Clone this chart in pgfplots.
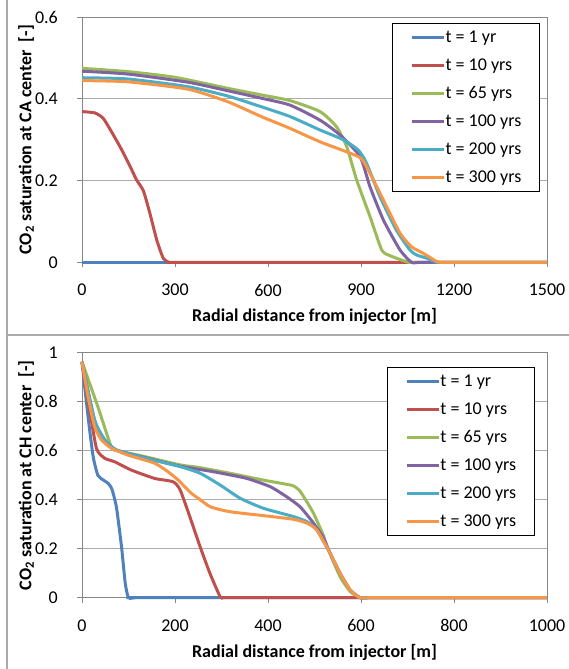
\documentclass[border=0pt]{standalone}
\usepackage{fontspec}
\setmainfont{Carlito}
\usepackage{pgfplots}
\pgfplotsset{compat=1.18}

\definecolor{sA}{HTML}{4F81BD}
\definecolor{sB}{HTML}{C0504D}
\definecolor{sC}{HTML}{9BBB59}
\definecolor{sD}{HTML}{8064A2}
\definecolor{sE}{HTML}{4BACC6}
\definecolor{sF}{HTML}{F79646}
\definecolor{axisgray}{RGB}{134,134,134}
\definecolor{gridgray}{RGB}{172,172,172}
\definecolor{framegray}{RGB}{170,170,170}

\pgfplotsset{
  excel/.style={
    scale only axis, width=465pt, height=245pt,
    anchor=south west, xmin=0, ymin=0,
    axis line style={draw=axisgray, line width=1pt},
    ymajorgrids, grid style={draw=gridgray, line width=1pt},
    tick align=outside, xtick pos=bottom, ytick pos=left,
    major tick length=5pt, tick style={draw=axisgray, line width=1pt},
    tick label style={font=\fontsize{18}{21}\selectfont},
    /pgf/number format/assume math mode=true,
    /pgf/number format/1000 sep={},
    scaled ticks=false,
    xticklabel style={anchor=north, inner sep=0pt, yshift=-16.5pt},
    yticklabel style={anchor=east, inner sep=0pt, xshift=-19pt},
    label style={font=\bfseries\fontsize{18}{21}\selectfont},
    xlabel style={at={(axis description cs:0.5,-0.222)}, anchor=center},
    ylabel style={at={(axis description cs:-0.1202,0.5)}, anchor=center},
    clip=false,
    every axis plot/.append style={line width=3pt, smooth, tension=0.35},
    legend image code/.code={\draw[#1] (0pt,0pt) -- (32pt,0pt);},
    legend cell align=left,
    legend style={anchor=north west, draw=black, line width=0.8pt, fill=white,
      inner xsep=18.5pt, inner ysep=6pt, row sep=12pt,
      font=\fontsize{18}{21}\selectfont,
      nodes={inner sep=0pt, text height=13pt, text depth=3pt},
      /tikz/every even column/.append style={column sep=1pt}},
  }
}

\begin{document}
\begin{tikzpicture}
\path[use as bounding box] (0pt,0pt) rectangle (569pt,669pt);
\draw[framegray, line width=1.5pt] (7pt,0pt) -- (7pt,669pt);
\draw[framegray, line width=1.5pt] (7pt,334pt) -- (569pt,334pt);

% top: CA center
\begin{axis}[excel, at={(82pt,406.7pt)},
  xmax=1500, ymax=0.6,
  xtick={0,300,600,900,1200,1500}, ytick={0,0.2,0.4,0.6},
  xlabel={Radial distance from injector [m]},
  ylabel={CO\textsubscript{2} saturation at CA center\ \ [-]},
  legend style={at={(0.666,0.978)}}]
\addplot[sA] coordinates {(0,0) (750,0) (1500,0)};
\addplot[sB] coordinates {(0,0.369) (41,0.366) (68,0.353) (95,0.32) (127,0.277)
  (155,0.235) (176,0.202) (198,0.175) (219,0.12) (241,0.055) (262,0.01) (280,0)
  (300,0) (340,0) (1500,0)};
\addplot[sC] coordinates {(0,0.475) (148,0.467) (300,0.453) (471,0.426) (578,0.41)
  (671,0.396) (768,0.369) (821,0.332) (854,0.283) (886,0.2016) (929,0.112)
  (967,0.03) (994,0.016) (1053,0) (1080,0) (1120,0) (1500,0)};
\addplot[sD] coordinates {(0,0.468) (148,0.461) (342,0.441) (471,0.42) (578,0.402)
  (671,0.385) (768,0.348) (832,0.312) (897,0.259) (929,0.185) (972,0.104)
  (1026,0.03) (1063,0) (1090,0) (1130,0) (1500,0)};
\addplot[sE] coordinates {(0,0.452) (148,0.449) (342,0.43) (471,0.407) (578,0.381)
  (671,0.357) (768,0.324) (843,0.30) (891,0.275) (918,0.2425) (961,0.161)
  (1014,0.079) (1058,0.03) (1079,0.018) (1112,0.01) (1144,0) (1170,0) (1210,0)
  (1500,0)};
\addplot[sF] coordinates {(0,0.445) (148,0.442) (342,0.424) (471,0.393) (578,0.357)
  (671,0.328) (768,0.295) (891,0.259) (918,0.234) (972,0.1526) (1026,0.071)
  (1063,0.038) (1101,0.022) (1144,0.002) (1155,0) (1180,0) (1220,0) (1500,0)};
\legend{t = 1 yr, t = 10 yrs, t = 65 yrs, t = 100 yrs, t = 200 yrs, t = 300 yrs}
\end{axis}

% bottom: CH center
\begin{axis}[excel, at={(82pt,71.3pt)},
  xmax=1000, ymax=1,
  xtick={0,200,400,600,800,1000}, ytick={0,0.2,0.4,0.6,0.8,1},
  xlabel={Radial distance from injector [m]},
  ylabel={CO\textsubscript{2} saturation at CH center\ \ [-]},
  legend style={at={(0.655,0.94)}}]
\addplot[sA] coordinates {(0,0.963) (13,0.739) (24,0.576) (34,0.50) (46,0.48)
  (56,0.467) (64,0.445) (74,0.37) (85,0.208) (93,0.059) (100,0) (115,0) (140,0)
  (1000,0)};
\addplot[sB] coordinates {(0,0.963) (13,0.807) (31,0.61) (49,0.569) (70,0.555)
  (106,0.521) (156,0.487) (196,0.473) (211,0.44) (232,0.33)
  (254,0.208) (275,0.1) (297,0.004) (304,0) (320,0) (350,0) (1000,0)};
\addplot[sC] coordinates {(0,0.963) (34,0.78) (63,0.616) (77,0.6) (135,0.576)
  (211,0.542) (250,0.532) (318,0.508) (390,0.48) (448,0.46) (458,0.453)
  (469,0.435) (484,0.39) (498,0.344) (519,0.255) (527,0.208) (555,0.086)
  (577,0.025) (598,0) (615,0) (640,0) (1000,0)};
\addplot[sD] coordinates {(0,0.963) (27,0.725) (49,0.644) (74,0.603) (135,0.572)
  (211,0.537) (283,0.514) (354,0.487) (405,0.453) (440,0.412) (469,0.371)
  (498,0.304) (519,0.245) (534,0.18) (555,0.1) (577,0.031) (598,0) (615,0)
  (640,0) (1000,0)};
\addplot[sE] coordinates {(0,0.963) (27,0.725) (49,0.644) (74,0.603) (135,0.57)
  (211,0.535) (254,0.508) (297,0.46) (340,0.406) (390,0.365) (455,0.331)
  (484,0.31) (505,0.276) (534,0.18) (555,0.1) (577,0.031) (598,0) (615,0)
  (640,0) (1000,0)};
\addplot[sF] coordinates {(0,0.963) (13,0.82) (27,0.698) (42,0.644) (63,0.61)
  (99,0.582) (156,0.549) (185,0.514) (207,0.48) (235,0.426) (250,0.406)
  (276,0.371) (318,0.351) (390,0.335) (455,0.32) (484,0.304) (505,0.276)
  (534,0.18) (555,0.1) (577,0.031) (598,0) (615,0) (640,0) (1000,0)};
\legend{t = 1 yr, t = 10 yrs, t = 65 yrs, t = 100 yrs, t = 200 yrs, t = 300 yrs}
\end{axis}
\end{tikzpicture}
\end{document}
